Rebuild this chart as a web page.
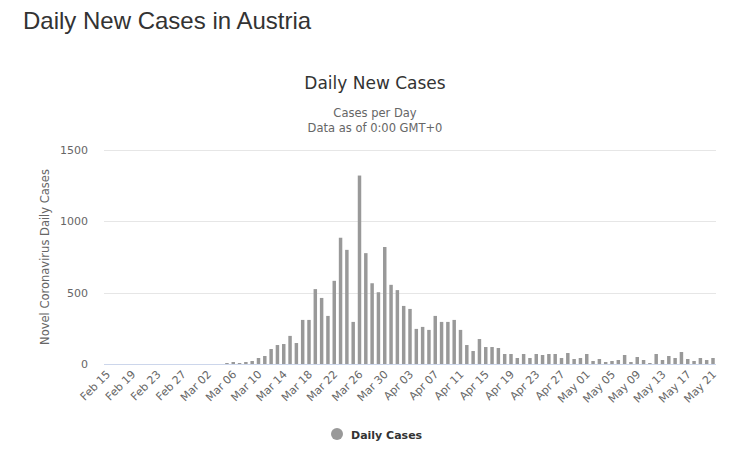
<!DOCTYPE html>
<html>
<head>
<meta charset="utf-8">
<script src="https://cdn.jsdelivr.net/npm/d3@7"></script>
<style>
  body { margin: 0; background: #fff; }
  svg { display: block; }
</style>
</head>
<body>
<div id="chart"></div>
<script>
// data (Feb 15 -> May 21, one value per day)
const startDate = new Date(Date.UTC(2020, 1, 15));
const endDate = new Date(Date.UTC(2020, 4, 22));
const dailyCases = [
  0, 0, 0, 0, 0, 0, 0, 0, 0, 0,
  0, 0, 0, 0, 0, 0, 0, 0, 0, 7,
  14, 7, 14, 21, 42, 56, 105, 133, 140, 197,
  147, 309, 309, 525, 463, 337, 583, 885, 800, 295,
  1321, 777, 566, 503, 820, 555, 518, 407, 386, 246,
  260, 239, 337, 295, 295, 309, 239, 133, 91, 175,
  119, 119, 112, 70, 70, 42, 70, 42, 70, 63,
  70, 70, 42, 77, 35, 42, 70, 21, 35, 14,
  21, 28, 63, 14, 49, 28, 7, 70, 28, 56,
  42, 84, 35, 21, 42, 28, 42
];
const yTicks = [0, 500, 1000, 1500];
const seriesName = "Daily Cases";

const dates = d3.utcDay.range(startDate, endDate);
const fmt = d3.utcFormat("%b %d");
const labels = dates.map(fmt);

const width = 741,
  height = 466;
const margin = { left: 104, right: 25, top: 150, bottom: 102 };

const svg = d3
  .select("#chart")
  .append("svg")
  .attr("width", width)
  .attr("height", height);

//page title
svg
  .append("text")
  .attr("x", 23)
  .attr("y", 29)
  .attr("font-family", "Liberation Sans, Arial, sans-serif")
  .attr("font-size", 24)
  .attr("fill", "#333")
  .text("Daily New Cases in Austria");

//chart titles
const cx = 375;
svg
  .append("text")
  .attr("x", cx)
  .attr("y", 89)
  .attr("text-anchor", "middle")
  .attr("font-family", "DejaVu Sans, sans-serif")
  .attr("font-size", 17)
  .attr("fill", "#333")
  .text("Daily New Cases");

svg
  .append("text")
  .attr("x", cx)
  .attr("y", 117)
  .attr("text-anchor", "middle")
  .attr("font-family", "DejaVu Sans, sans-serif")
  .attr("font-size", 11.5)
  .attr("fill", "#666")
  .text("Cases per Day");

svg
  .append("text")
  .attr("x", cx)
  .attr("y", 132)
  .attr("text-anchor", "middle")
  .attr("font-family", "DejaVu Sans, sans-serif")
  .attr("font-size", 11.5)
  .attr("fill", "#666")
  .text("Data as of 0:00 GMT+0");

//scales
const x = d3
  .scaleBand()
  .domain(labels)
  .range([margin.left, width - margin.right])
  .paddingInner(0.45)
  .paddingOuter(0.2);

const y = d3
  .scaleLinear()
  .domain([0, 1500])
  .range([height - margin.bottom, margin.top]);

//grid
svg
  .append("g")
  .selectAll("line")
  .data(yTicks.filter((d) => d > 0))
  .join("line")
  .attr("x1", margin.left)
  .attr("x2", width - margin.right)
  .attr("y1", (d) => Math.round(y(d)) + 0.5)
  .attr("y2", (d) => Math.round(y(d)) + 0.5)
  .attr("stroke", "#e6e6e6");

//y labels
svg
  .append("g")
  .selectAll("text")
  .data(yTicks)
  .join("text")
  .attr("x", 88)
  .attr("y", (d) => y(d) + 4)
  .attr("text-anchor", "end")
  .attr("font-family", "DejaVu Sans, sans-serif")
  .attr("font-size", 11)
  .attr("fill", "#666")
  .text((d) => d);

//y title
svg
  .append("text")
  .attr("transform", `translate(49, ${(y(0) + y(1500)) / 2}) rotate(-90)`)
  .attr("text-anchor", "middle")
  .attr("font-family", "DejaVu Sans, sans-serif")
  .attr("font-size", 11.5)
  .attr("fill", "#666")
  .text("Novel Coronavirus Daily Cases");

//bars
svg
  .append("g")
  .selectAll("rect")
  .data(dailyCases)
  .join("rect")
  .attr("x", (d, i) => x(labels[i]))
  .attr("width", x.bandwidth())
  .attr("y", (d) => y(d))
  .attr("height", (d) => y(0) - y(d))
  .attr("fill", "#999999");

//baseline
svg
  .append("line")
  .attr("x1", margin.left)
  .attr("x2", width - margin.right)
  .attr("y1", Math.round(y(0)) + 0.5)
  .attr("y2", Math.round(y(0)) + 0.5)
  .attr("stroke", "#ccd6eb");

//x labels every 4 days
const tickLabels = labels.filter((d, i) => i % 4 === 0);
svg
  .append("g")
  .selectAll("text")
  .data(tickLabels)
  .join("text")
  .attr("transform", (d) => `translate(${x(d) + x.bandwidth() / 2 + 4}, 375) rotate(-45)`)
  .attr("text-anchor", "end")
  .attr("font-family", "DejaVu Sans, sans-serif")
  .attr("font-size", 11)
  .attr("fill", "#666")
  .text((d) => d);

//legend
svg
  .append("circle")
  .attr("cx", 337)
  .attr("cy", 434)
  .attr("r", 6)
  .attr("fill", "#999999");

svg
  .append("text")
  .attr("x", 351)
  .attr("y", 439)
  .attr("font-family", "DejaVu Sans, sans-serif")
  .attr("font-size", 11)
  .attr("font-weight", "bold")
  .attr("fill", "#333")
  .text(seriesName);
</script>
</body>
</html>
